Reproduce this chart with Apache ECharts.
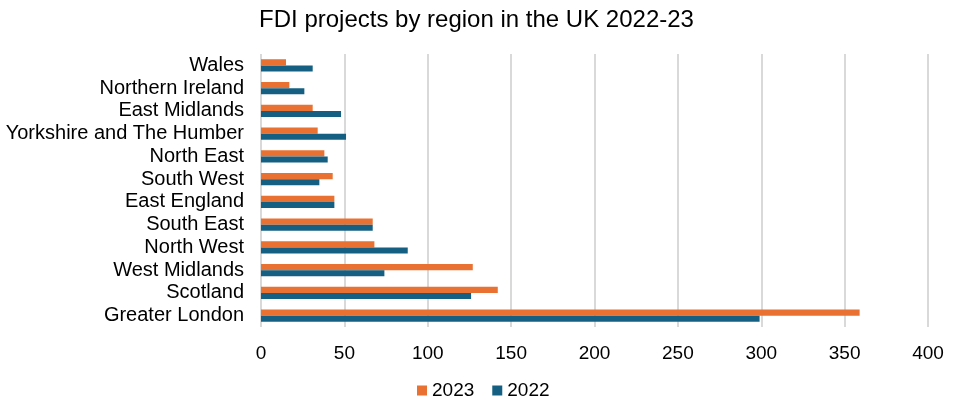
<!DOCTYPE html>
<html>
<head>
<meta charset="utf-8">
<script src="https://cdn.jsdelivr.net/npm/echarts@6/dist/echarts.min.js"></script>
<style>
  html, body { margin: 0; padding: 0; background: #fff; }
  #chart { width: 953px; height: 399px; }
</style>
</head>
<body>
<div id="chart"></div>
<script>
const regions = ['Greater London', 'Scotland', 'West Midlands', 'North West', 'South East',
  'East England', 'South West', 'North East', 'Yorkshire and The Humber',
  'East Midlands', 'Northern Ireland', 'Wales'];
const values2023 = [359, 142, 127, 68, 67, 44, 43, 38, 34, 31, 17, 15];
const values2022 = [299, 126, 74, 88, 67, 44, 35, 40, 51, 48, 26, 31];

const chart = echarts.init(document.getElementById('chart'));
const font = 'Liberation Sans, Arial, sans-serif';

chart.setOption({
  animation: false,
  title: {
    text: 'FDI projects by region in the UK 2022-23',
    left: 'center',
    top: 3,
    textStyle: { fontFamily: font, fontSize: 24, fontWeight: 'normal', color: '#000' }
  },
  legend: {
    data: ['2023', '2022'],
    top: 376,
    left: 412,
    itemWidth: 10,
    itemHeight: 10,
    itemGap: 18,
    icon: 'rect',
    textStyle: { fontFamily: font, fontSize: 19, color: '#000' }
  },
  grid: { left: 261, right: 25, top: 54, bottom: 72 },
  xAxis: {
    type: 'value',
    min: 0,
    max: 400,
    interval: 50,
    axisLine: { show: false },
    axisTick: { show: false },
    axisLabel: { fontFamily: font, fontSize: 19, color: '#000', margin: 17 },
    splitLine: { lineStyle: { color: '#d9d9d9', width: 2 } }
  },
  yAxis: {
    type: 'category',
    data: regions,
    axisLine: { show: false },
    axisTick: { show: false },
    axisLabel: { fontFamily: font, fontSize: 20, color: '#000', margin: 17, interval: 0 }
  },
  series: [
    {
      name: '2023',
      type: 'bar',
      data: values2023,
      itemStyle: { color: '#E97132' },
      barGap: '0%',
      barCategoryGap: '46%'
    },
    {
      name: '2022',
      type: 'bar',
      data: values2022,
      itemStyle: { color: '#156082' },
      barGap: '0%',
      barCategoryGap: '46%'
    }
  ]
});
</script>
</body>
</html>
